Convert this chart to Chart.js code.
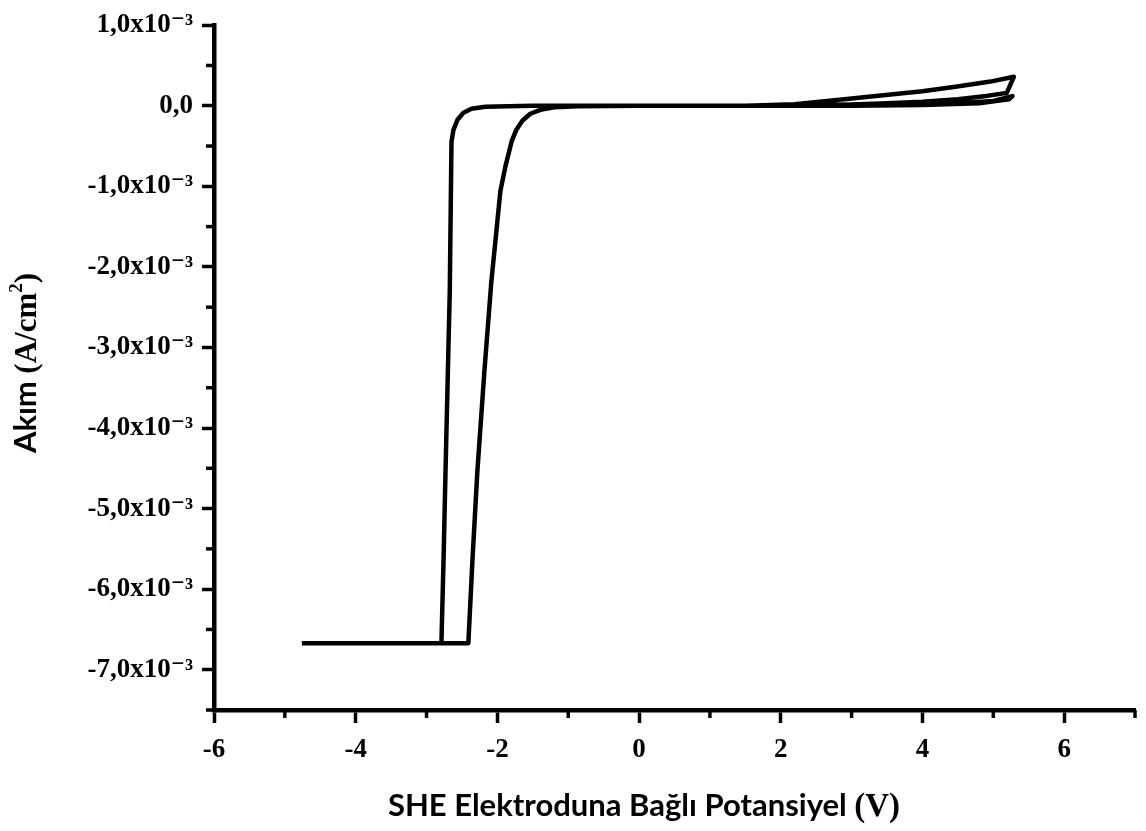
<!DOCTYPE html>
<html>
<head>
<meta charset="utf-8">
<script src="https://cdn.jsdelivr.net/npm/chart.js@4/dist/chart.umd.min.js"></script>
<style>
  html, body { margin: 0; padding: 0; background: #fff; }
  #wrap { width: 1146px; height: 831px; }
</style>
</head>
<body>
<div id="wrap"><canvas id="cvChart" width="1146" height="831"></canvas></div>
<script>
// Potential (V vs SHE) and current density (A/cm2), in scan order
const potential = [
    -4.76, -2.41,
    -2.352, -2.282, -2.183, -2.085, -2.028, -1.958, -1.887, -1.80, -1.732, -1.648, -1.535, -1.394, -1.197, -0.86,
    0.0, 1.5, 2.2, 3.0, 3.55, 4.0, 4.49, 4.96, 5.29,
    5.19, 4.9, 4.5, 4.0, 3.5, 3.0, 2.3, 1.5,
    2.5, 3.5, 4.5, 5.0, 5.27,
    5.22, 4.8, 4.0, 3.0, 1.0, -1.5,
    -1.845, -2.17, -2.366, -2.479, -2.563, -2.62, -2.648, -2.672, -2.732, -2.76, -2.79
];
const current = [
    -6.67e-3, -6.67e-3,
    -5.64e-3, -4.53e-3, -3.29e-3, -2.18e-3, -1.68e-3, -1.06e-3, -0.755e-3, -0.446e-3, -0.297e-3, -0.186e-3, -0.099e-3, -0.05e-3, -0.019e-3, -0.006e-3,
    0, 0, 0.02e-3, 0.09e-3, 0.14e-3, 0.18e-3, 0.24e-3, 0.30e-3, 0.36e-3,
    0.16e-3, 0.12e-3, 0.08e-3, 0.05e-3, 0.03e-3, 0.015e-3, 0.005e-3, 0,
    0, 0.01e-3, 0.03e-3, 0.06e-3, 0.12e-3,
    0.08e-3, 0.03e-3, 0.01e-3, 0, 0, 0,
    -0.006e-3, -0.012e-3, -0.037e-3, -0.087e-3, -0.173e-3, -0.30e-3, -0.446e-3, -2.3e-3, -4.53e-3, -5.64e-3, -6.67e-3
];

// Tick labels
const xTickValues = [-6, -4, -2, 0, 2, 4, 6];
const xTickLabels = ['-6', '-4', '-2', '0', '2', '4', '6'];
const yTickValues = [1, 0, -1, -2, -3, -4, -5, -6, -7];   // x10^-3
const yTickLabels = ['1,0x10\u207B\u00B3', '0,0', '-1,0x10\u207B\u00B3', '-2,0x10\u207B\u00B3', '-3,0x10\u207B\u00B3',
    '-4,0x10\u207B\u00B3', '-5,0x10\u207B\u00B3', '-6,0x10\u207B\u00B3', '-7,0x10\u207B\u00B3'];

// Axis titles: sans part + serif part (the units are set in serif in the figure)
const xTitleParts = ['SHE Elektroduna Ba\u011Fl\u0131 Potansiyel ', '(V)'];
const yTitleParts = ['Ak\u0131m ', '(A/cm', '2', ')'];

const points = potential.map((v, i) => ({ x: v, y: current[i] }));

const serif = "'Liberation Serif', 'DejaVu Serif', serif";
const sans = "Lato, 'Open Sans', sans-serif";

function xLabel(v) {
    const i = xTickValues.findIndex(t => Math.abs(t - v) < 1e-6);
    return i >= 0 ? xTickLabels[i] : '';
}

function yLabel(v) {
    const i = yTickValues.findIndex(t => Math.abs(t * 1e-3 - v) < 1e-9);
    return i >= 0 ? yTickLabels[i] : '';
}

// Short ticks for the unlabeled (minor) positions
const minorTicks = {
    id: 'minorTicks',
    afterDraw(chart) {
        const ctx = chart.ctx;
        ctx.save();
        ctx.strokeStyle = '#000';
        ctx.lineWidth = 3.5;
        const xs = chart.scales.x, ys = chart.scales.y;
        xs.ticks.forEach(t => {
            if (xLabel(t.value) !== '') return;
            const px = xs.getPixelForValue(t.value);
            ctx.beginPath();
            ctx.moveTo(px, xs.top);
            ctx.lineTo(px, xs.top + 8);
            ctx.stroke();
        });
        ys.ticks.forEach(t => {
            if (yLabel(t.value) !== '') return;
            const py = ys.getPixelForValue(t.value);
            ctx.beginPath();
            ctx.moveTo(ys.right, py);
            ctx.lineTo(ys.right - 8, py);
            ctx.stroke();
        });
        ctx.restore();
    }
};

// Axis titles with mixed fonts
const axisTitles = {
    id: 'axisTitles',
    afterDraw(chart) {
        const ctx = chart.ctx;
        ctx.save();
        ctx.fillStyle = '#000';
        ctx.textBaseline = 'alphabetic';
        ctx.textAlign = 'left';

        // x title
        const fx1 = 'bold 31px ' + sans, fx2 = 'bold 33px ' + serif;
        ctx.font = fx1; const w1 = ctx.measureText(xTitleParts[0]).width;
        ctx.font = fx2; const w2 = ctx.measureText(xTitleParts[1]).width;
        let x = 644 - (w1 + w2) / 2;
        const base = 816;
        ctx.font = fx1; ctx.fillText(xTitleParts[0], x, base);
        ctx.font = fx2; ctx.fillText(xTitleParts[1], x + w1, base);

        // y title (rotated)
        ctx.translate(36, 363);
        ctx.rotate(-Math.PI / 2);
        const fy1 = 'bold 31px ' + sans, fy2 = 'bold 31px ' + serif, fy3 = 'bold 19px ' + serif;
        ctx.font = fy1; const a = ctx.measureText(yTitleParts[0]).width;
        ctx.font = fy2; const b = ctx.measureText(yTitleParts[1]).width;
        ctx.font = fy3; const c = ctx.measureText(yTitleParts[2]).width;
        ctx.font = fy2; const d = ctx.measureText(yTitleParts[3]).width;
        let p = -(a + b + c + d) / 2;
        ctx.font = fy1; ctx.fillText(yTitleParts[0], p, 0); p += a;
        ctx.font = fy2; ctx.fillText(yTitleParts[1], p, 0); p += b;
        ctx.font = fy3; ctx.fillText(yTitleParts[2], p, -14); p += c;
        ctx.font = fy2; ctx.fillText(yTitleParts[3], p, 0);
        ctx.restore();
    }
};

new Chart(document.getElementById('cvChart').getContext('2d'), {
    type: 'scatter',
    data: {
        datasets: [{
            data: points,
            showLine: true,
            borderColor: '#000',
            borderWidth: 4.5,
            borderJoinStyle: 'round',
            pointRadius: 0,
            tension: 0,
            fill: false
        }]
    },
    options: {
        responsive: false,
        animation: false,
        devicePixelRatio: 1,
        layout: { padding: { top: 23, right: 8, left: 0, bottom: 0 } },
        plugins: {
            legend: { display: false },
            tooltip: { enabled: false }
        },
        scales: {
            x: {
                type: 'linear',
                min: -6,
                max: 7,
                afterBuildTicks: scale => {
                    const t = [];
                    for (let v = -6; v <= 7; v++) t.push({ value: v });
                    scale.ticks = t;
                },
                afterFit: scale => { scale.height = 121; },
                border: { display: true, color: '#000', width: 4.5 },
                grid: {
                    drawOnChartArea: false,
                    tickLength: 13,
                    tickWidth: 3.5,
                    tickColor: c => (c.tick && xLabel(c.tick.value) !== '') ? '#000' : 'rgba(0,0,0,0)'
                },
                ticks: {
                    color: '#000',
                    font: { family: serif, weight: 'bold', size: 27 },
                    padding: 11,
                    maxRotation: 0,
                    autoSkip: false,
                    callback: v => xLabel(v)
                },
                title: { display: false }
            },
            y: {
                type: 'linear',
                min: -7.5e-3,
                max: 1.0e-3,
                afterBuildTicks: scale => {
                    const t = [];
                    for (let k = 2; k >= -15; k--) t.push({ value: k * 0.5e-3 });
                    scale.ticks = t;
                },
                afterFit: scale => { scale.width = 214; },
                border: { display: true, color: '#000', width: 4.5 },
                grid: {
                    drawOnChartArea: false,
                    tickLength: 12,
                    tickWidth: 3.5,
                    tickColor: c => (c.tick && yLabel(c.tick.value) !== '') ? '#000' : 'rgba(0,0,0,0)'
                },
                ticks: {
                    color: '#000',
                    font: { family: serif, weight: 'bold', size: 27 },
                    padding: 9,
                    autoSkip: false,
                    callback: v => yLabel(v)
                },
                title: { display: false }
            }
        }
    },
    plugins: [minorTicks, axisTitles]
});
</script>
</body>
</html>
